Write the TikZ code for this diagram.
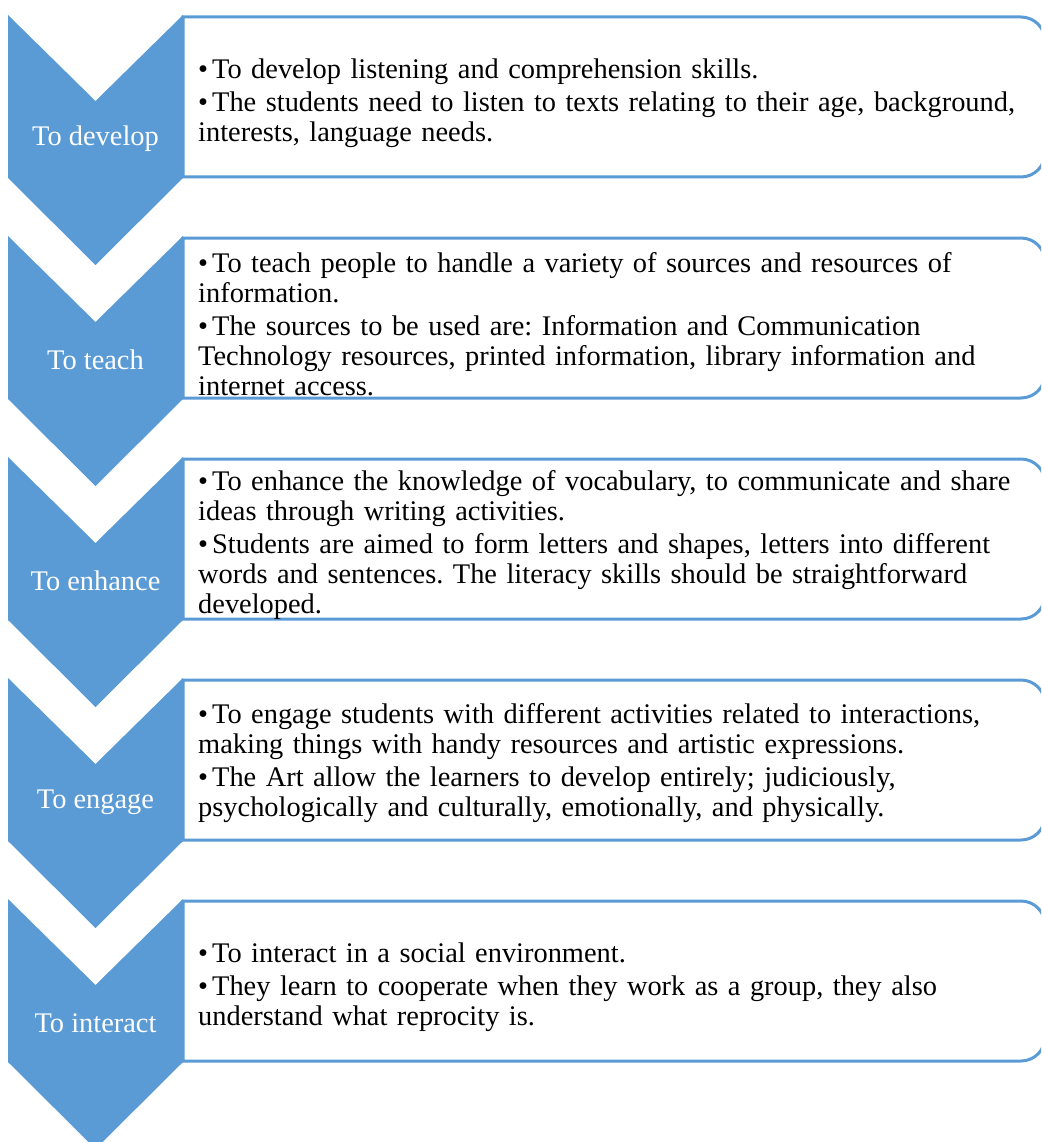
\documentclass[tikz,border=0pt]{standalone}
\usepackage{fontspec}
\setmainfont{Liberation Serif}
\usepackage{tikz}
\usepackage{xcolor}

\definecolor{chevblue}{HTML}{5B9BD5}

\newcommand{\bitem}{\par\hangindent=14pt\hangafter=1\noindent\makebox[14pt][l]{\textbullet}}

\tikzset{
  chevron/.style={fill=chevblue, draw=none},
  boxline/.style={draw=chevblue, line width=3pt, fill=white},
  chevlabel/.style={text=white, font=\fontsize{28.4}{30}\selectfont, inner sep=0pt},
  boxtext/.style={anchor=west, text width=840pt, align=left, inner sep=0pt,
    font=\fontsize{28.4}{30}\selectfont\frenchspacing, execute at begin node={\setlength{\parskip}{2.5pt}}}
}

\begin{document}
\begin{tikzpicture}[x=1pt, y=-1pt]
\useasboundingbox (0,0) rectangle (1041,1142);
\clip (0,0) rectangle (1041,1142);

\draw[boxline] (183,17) -- (1021,17) arc[start angle=-90, end angle=0, radius=24] -- (1045,153) arc[start angle=0, end angle=90, radius=24] -- (183,177) -- cycle;
\draw[boxline] (183,238) -- (1021,238) arc[start angle=-90, end angle=0, radius=24] -- (1045,374) arc[start angle=0, end angle=90, radius=24] -- (183,398) -- cycle;
\draw[boxline] (183,459) -- (1021,459) arc[start angle=-90, end angle=0, radius=24] -- (1045,595) arc[start angle=0, end angle=90, radius=24] -- (183,619) -- cycle;
\draw[boxline] (183,680) -- (1021,680) arc[start angle=-90, end angle=0, radius=24] -- (1045,816) arc[start angle=0, end angle=90, radius=24] -- (183,840) -- cycle;
\draw[boxline] (183,901) -- (1021,901) arc[start angle=-90, end angle=0, radius=24] -- (1045,1037) arc[start angle=0, end angle=90, radius=24] -- (183,1061) -- cycle;

\fill[chevron] (8,15) -- (95.5,101) -- (183,15) -- (183,178) -- (95.5,265) -- (8,178) -- cycle;
\fill[chevron] (8,236) -- (95.5,322) -- (183,236) -- (183,399) -- (95.5,486) -- (8,399) -- cycle;
\fill[chevron] (8,457) -- (95.5,543) -- (183,457) -- (183,620) -- (95.5,707) -- (8,620) -- cycle;
\fill[chevron] (8,678) -- (95.5,764) -- (183,678) -- (183,841) -- (95.5,928) -- (8,841) -- cycle;
\fill[chevron] (8,899) -- (95.5,985) -- (183,899) -- (183,1062) -- (95.5,1149) -- (8,1062) -- cycle;

\node[chevlabel] (l0) at (95.5,139) {To develop};
\node[chevlabel] (l1) at (95.5,360) {To teach};
\node[chevlabel] (l2) at (95.5,581) {To enhance};
\node[chevlabel] (l3) at (95.5,802) {To engage};
\node[chevlabel] (l4) at (95.5,1023) {To interact};

\node[boxtext] (b0) at (198,97) {\bitem To develop listening and comprehension skills.
\bitem The students need to listen to texts relating to their age, background,\\ interests, language needs.};
\node[boxtext] (b1) at (198,318) {\bitem To teach people to handle a variety of sources and resources of\\ information.
\bitem The sources to be used are: Information and Communication\\ Technology resources, printed information, library information and\\ internet access.};
\node[boxtext] (b2) at (198,539) {\bitem To enhance the knowledge of vocabulary, to communicate and share\\ ideas through writing activities.
\bitem Students are aimed to form letters and shapes, letters into different\\ words and sentences. The literacy skills should be straightforward\\ developed.};
\node[boxtext] (b3) at (198,757) {\bitem To engage students with different activities related to interactions,\\ making things with handy resources and artistic expressions.
\bitem The Art allow the learners to develop entirely; judiciously,\\ psychologically and culturally, emotionally, and physically.};
\node[boxtext] (b4) at (198,981) {\bitem To interact in a social environment.
\bitem They learn to cooperate when they work as a group, they also\\ understand what reprocity is.};

\end{tikzpicture}
\end{document}
